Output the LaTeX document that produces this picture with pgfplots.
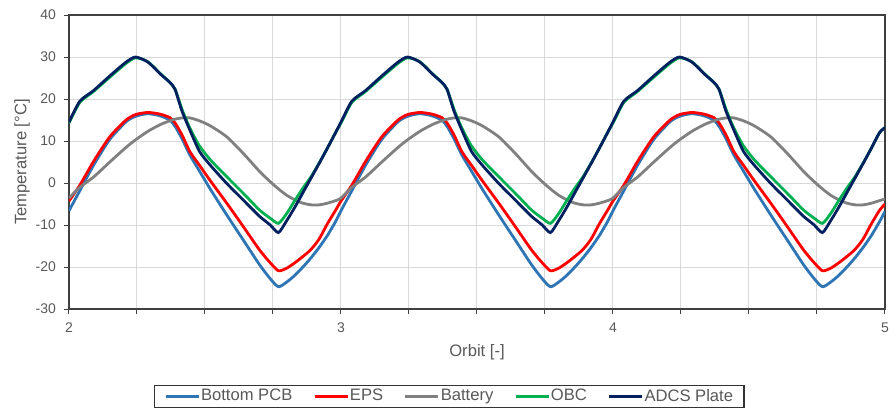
\documentclass[border=0pt]{standalone}
\usepackage{fontspec}
\setmainfont{Liberation Sans}
\usepackage{pgfplots}
\usepackage{pgfplotstable}
\pgfplotsset{compat=1.18}
\definecolor{cpcb}{RGB}{46,117,182}
\definecolor{ceps}{RGB}{255,0,0}
\definecolor{cbat}{RGB}{128,128,128}
\definecolor{cobc}{RGB}{0,176,80}
\definecolor{cadcs}{RGB}{0,32,96}
\definecolor{txt}{RGB}{89,89,89}
\definecolor{gridc}{RGB}{217,217,217}
\pgfplotstableread{
x pcb eps bat obc adcs
2.000 -6.6 -4.3 -3.6 14.3 14.5
2.040 -1.8 -0.5 -1.0 19.2 19.5
2.090 4.2 5.1 1.4 21.8 22.0
2.150 10.4 11.0 5.0 25.2 25.5
2.210 14.6 15.0 8.5 28.5 28.8
2.245 15.9 16.3 10.3 29.8 30.0
2.290 16.5 16.8 12.3 28.9 28.8
2.335 16.0 16.4 13.9 26.1 26.0
2.370 15.0 15.6 14.8 24.0 24.0
2.390 13.5 14.3 15.2 22.3 22.3
2.415 10.6 11.5 15.5 17.6 17.2
2.445 6.6 7.4 15.5 13.0 12.5
2.480 2.8 4.2 14.8 8.8 7.5
2.520 -1.5 0.5 13.6 5.5 4.2
2.580 -7.6 -4.8 11.0 1.5 -0.1
2.640 -13.5 -10.3 7.1 -2.4 -4.0
2.700 -19.4 -15.9 2.8 -6.4 -7.9
2.740 -22.8 -19.0 0.3 -8.4 -10.0
2.770 -24.7 -20.9 -1.4 -9.6 -11.8
2.800 -23.6 -20.3 -2.9 -7.3 -9.0
2.830 -22.0 -19.0 -4.0 -4.2 -5.8
2.860 -20.0 -17.5 -4.8 -1.2 -2.3
2.890 -17.8 -15.8 -5.2 1.5 1.2
2.920 -15.3 -13.3 -5.2 4.8 4.7
2.950 -12.5 -9.7 -4.8 8.3 8.3
2.980 -9.2 -6.5 -4.2 12.0 12.0
3.000 -6.6 -4.3 -3.6 14.3 14.5
3.040 -1.8 -0.5 -1.0 19.2 19.5
3.090 4.2 5.1 1.4 21.8 22.0
3.150 10.4 11.0 5.0 25.2 25.5
3.210 14.6 15.0 8.5 28.5 28.8
3.245 15.9 16.3 10.3 29.8 30.0
3.290 16.5 16.8 12.3 28.9 28.8
3.335 16.0 16.4 13.9 26.1 26.0
3.370 15.0 15.6 14.8 24.0 24.0
3.390 13.5 14.3 15.2 22.3 22.3
3.415 10.6 11.5 15.5 17.6 17.2
3.445 6.6 7.4 15.5 13.0 12.5
3.480 2.8 4.2 14.8 8.8 7.5
3.520 -1.5 0.5 13.6 5.5 4.2
3.580 -7.6 -4.8 11.0 1.5 -0.1
3.640 -13.5 -10.3 7.1 -2.4 -4.0
3.700 -19.4 -15.9 2.8 -6.4 -7.9
3.740 -22.8 -19.0 0.3 -8.4 -10.0
3.770 -24.7 -20.9 -1.4 -9.6 -11.8
3.800 -23.6 -20.3 -2.9 -7.3 -9.0
3.830 -22.0 -19.0 -4.0 -4.2 -5.8
3.860 -20.0 -17.5 -4.8 -1.2 -2.3
3.890 -17.8 -15.8 -5.2 1.5 1.2
3.920 -15.3 -13.3 -5.2 4.8 4.7
3.950 -12.5 -9.7 -4.8 8.3 8.3
3.980 -9.2 -6.5 -4.2 12.0 12.0
4.000 -6.6 -4.3 -3.6 14.3 14.5
4.040 -1.8 -0.5 -1.0 19.2 19.5
4.090 4.2 5.1 1.4 21.8 22.0
4.150 10.4 11.0 5.0 25.2 25.5
4.210 14.6 15.0 8.5 28.5 28.8
4.245 15.9 16.3 10.3 29.8 30.0
4.290 16.5 16.8 12.3 28.9 28.8
4.335 16.0 16.4 13.9 26.1 26.0
4.370 15.0 15.6 14.8 24.0 24.0
4.390 13.5 14.3 15.2 22.3 22.3
4.415 10.6 11.5 15.5 17.6 17.2
4.445 6.6 7.4 15.5 13.0 12.5
4.480 2.8 4.2 14.8 8.8 7.5
4.520 -1.5 0.5 13.6 5.5 4.2
4.580 -7.6 -4.8 11.0 1.5 -0.1
4.640 -13.5 -10.3 7.1 -2.4 -4.0
4.700 -19.4 -15.9 2.8 -6.4 -7.9
4.740 -22.8 -19.0 0.3 -8.4 -10.0
4.770 -24.7 -20.9 -1.4 -9.6 -11.8
4.800 -23.6 -20.3 -2.9 -7.3 -9.0
4.830 -22.0 -19.0 -4.0 -4.2 -5.8
4.860 -20.0 -17.5 -4.8 -1.2 -2.3
4.890 -17.8 -15.8 -5.2 1.5 1.2
4.920 -15.3 -13.3 -5.2 4.8 4.7
4.950 -12.5 -9.7 -4.8 8.3 8.3
4.980 -9.2 -6.5 -4.2 12.0 12.0
5.000 -6.8 -5.0 -3.8 13.2 13.2
}\data
\begin{document}
\begin{tikzpicture}
\path[use as bounding box] (-34.5pt,-50pt) rectangle (410.5pt,154.5pt);
\begin{axis}[
  scale only axis,
  width=408pt, height=147pt,
  xmin=2, xmax=5, ymin=-30, ymax=40,
  xtick={2,3,4,5},
  minor xtick={2.25,2.5,2.75,3.25,3.5,3.75,4.25,4.5,4.75},
  ytick={-30,-20,...,40},
  grid=both,
  major grid style={gridc, line width=0.5pt},
  minor grid style={gridc, line width=0.5pt},
  axis line style={black!75, line width=0.7pt},
  tick style={black!75, line width=0.5pt},
  tick align=outside,
  major tick length=2.5pt, minor tick length=2.5pt,
  xtick pos=bottom, ytick pos=left,
  font=\fontsize{8.3}{10}\selectfont,
  tick label style={font=\fontsize{7}{8}\selectfont, text=txt},
  /pgf/number format/assume math mode=true,
  xticklabel style={yshift=-1pt},
  yticklabel style={xshift=-0.5pt},
  xlabel={Orbit [-]},
  ylabel={Temperature [°C]},
  label style={font=\fontsize{8.3}{10}\selectfont, text=txt},
  xlabel style={at={(axis description cs:0.5,0)}, anchor=center, yshift=-21.5pt},
  ylabel style={at={(axis description cs:0,0.5)}, anchor=center, xshift=0pt, yshift=23.5pt},
  legend columns=5,
  legend style={at={(rel axis cs:0.466,0)}, anchor=north, yshift=-38pt,
    draw=black!80, line width=0.6pt, font=\fontsize{8.3}{10}\selectfont, text=txt,
    inner xsep=5pt, inner ysep=0.5pt,
    /tikz/every odd column/.append style={column sep=0pt},
    /tikz/every even column/.append style={column sep=10pt},
    nodes={inner xsep=0.5pt, inner ysep=1.2pt}},
  legend image code/.code={\draw[#1, line width=1.3pt, sharp plot] (0pt,0pt) -- (16.5pt,0pt);},
  every axis plot/.append style={line width=1.4pt, smooth, tension=0.4},
]
\addplot[cpcb] table[x=x, y=pcb] {\data};
\addlegendentry{Bottom PCB}
\addplot[ceps] table[x=x, y=eps] {\data};
\addlegendentry{EPS}
\addplot[cbat] table[x=x, y=bat] {\data};
\addlegendentry{Battery}
\addplot[cobc] table[x=x, y=obc] {\data};
\addlegendentry{OBC}
\addplot[cadcs] table[x=x, y=adcs] {\data};
\addlegendentry{ADCS Plate}
\end{axis}
\end{tikzpicture}
\end{document}
